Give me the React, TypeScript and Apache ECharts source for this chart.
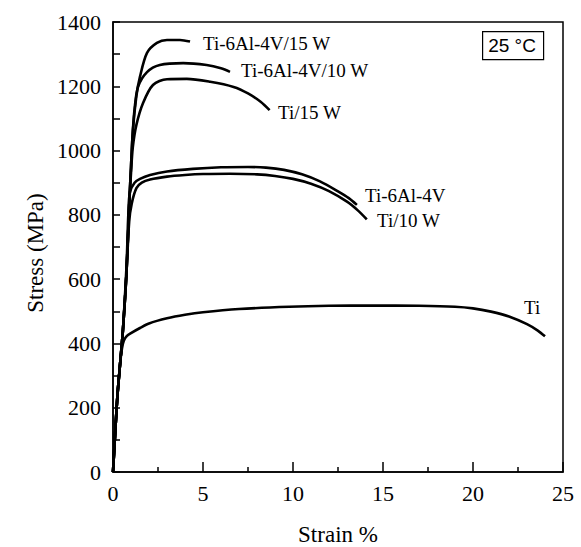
import React, { useEffect, useRef } from "react";
import * as echarts from "echarts";

// Engineering stress–strain curves at 25 °C: [strain %, stress MPa]
const tiCurve: [number, number][] = [
  [0, 0], [0.12, 120], [0.25, 240], [0.4, 340], [0.5, 385], [0.6, 408], [0.75, 422],
  [1, 432], [1.5, 448], [2, 462], [3, 478], [4, 489], [5, 497], [7, 507], [9.8, 514],
  [12, 517], [14.4, 518], [17, 517], [19, 514], [20, 509], [21, 499], [22, 484],
  [23, 460], [23.6, 440], [24, 422],
];
const ti10WCurve: [number, number][] = [
  [0, 0], [0.12, 120], [0.25, 240], [0.4, 340], [0.55, 440], [0.75, 620], [0.9, 780],
  [1.04, 835], [1.3, 883], [1.6, 900], [2.06, 910], [3, 919], [4, 924], [5, 927],
  [6.5, 928], [8, 926], [9, 921], [10, 912], [11, 897], [12, 874], [13, 841],
  [13.6, 814], [14.1, 786],
];
const ti64Curve: [number, number][] = [
  [0, 0], [0.12, 120], [0.25, 240], [0.4, 340], [0.55, 440], [0.75, 640], [0.85, 800],
  [0.94, 871], [1.2, 900], [1.5, 912], [2.06, 924], [3, 935], [4.44, 943], [6, 948],
  [7.5, 949], [8.5, 947], [9.5, 940], [10.5, 926], [11.5, 904], [12.5, 873],
  [13.1, 852], [13.55, 831],
];
const ti15WCurve: [number, number][] = [
  [0, 0], [0.12, 120], [0.25, 240], [0.4, 340], [0.55, 440], [0.75, 620], [0.9, 830],
  [1.0, 930], [1.1, 1010], [1.3, 1080], [1.67, 1148], [2.22, 1204], [3, 1222], [4.1, 1223],
  [5.4, 1214], [6.7, 1198], [7.5, 1178], [8.2, 1152], [8.7, 1126],
];
const ti64_10WCurve: [number, number][] = [
  [0, 0], [0.12, 120], [0.25, 240], [0.4, 340], [0.55, 440], [0.75, 620], [0.9, 830],
  [1.0, 950], [1.1, 1060], [1.2, 1130], [1.39, 1198], [1.89, 1244], [2.6, 1266],
  [3.9, 1272], [5.2, 1266], [6, 1256], [6.5, 1245],
];
const ti64_15WCurve: [number, number][] = [
  [0, 0], [0.12, 120], [0.25, 240], [0.4, 340], [0.55, 440], [0.75, 620], [0.9, 830],
  [1.0, 950], [1.1, 1060], [1.3, 1170], [1.5, 1230], [1.89, 1304], [2.44, 1335],
  [3, 1344], [3.72, 1344], [4.28, 1339],
];

const seriesNames = ["Ti", "Ti/10 W", "Ti-6Al-4V", "Ti/15 W", "Ti-6Al-4V/10 W", "Ti-6Al-4V/15 W"];
const seriesData = [tiCurve, ti10WCurve, ti64Curve, ti15WCurve, ti64_10WCurve, ti64_15WCurve];

const serif = "Liberation Serif";
const sans = "Liberation Sans";

// Curve label placement [left x, centre y] in pixels
const labelSpots: Record<string, [number, number]> = {
  "Ti-6Al-4V/15 W": [203, 43],
  "Ti-6Al-4V/10 W": [241, 70],
  "Ti/15 W": [278, 112],
  "Ti-6Al-4V": [365, 195],
  "Ti/10 W": [377, 220],
  "Ti": [524, 307],
};

export default function App() {
  const ref = useRef<HTMLDivElement>(null);

  useEffect(() => {
    if (!ref.current) return;
    const chart = echarts.init(ref.current, null, { renderer: "svg" });

    const labelTexts = seriesNames.map((name) => ({
      type: "text" as const,
      x: labelSpots[name][0],
      y: labelSpots[name][1],
      style: {
        text: name,
        fontFamily: serif,
        fontSize: 19,
        fill: "#000",
        verticalAlign: "middle",
      },
    }));

    chart.setOption({
      animation: false,
      backgroundColor: "#fff",
      grid: {
        left: 113,
        right: 18,
        top: 22,
        bottom: 75,
        show: true,
        borderColor: "#000",
        borderWidth: 1.5,
      },
      xAxis: {
        type: "value",
        min: 0,
        max: 25,
        interval: 5,
        axisLine: { show: true, lineStyle: { color: "#000", width: 1.5 } },
        axisTick: { show: true, inside: true, length: 10, lineStyle: { color: "#000", width: 1.5 } },
        minorTick: { show: true, splitNumber: 2, length: 5, lineStyle: { color: "#000", width: 1.5 } },
        splitLine: { show: false },
        axisLabel: { color: "#000", fontFamily: serif, fontSize: 22, margin: 10 },
      },
      yAxis: {
        type: "value",
        min: 0,
        max: 1400,
        interval: 100,
        axisLine: { show: true, lineStyle: { color: "#000", width: 1.5 } },
        axisTick: { show: true, inside: true, length: 7, interval: 0, lineStyle: { color: "#000", width: 1.5 } },
        splitLine: { show: false },
        axisLabel: {
          color: "#000",
          fontFamily: serif,
          fontSize: 22,
          margin: 12,
          formatter: (v: number) => (v % 200 === 0 ? String(v) : ""),
        },
      },
      series: seriesNames.map((name, i) => ({
        name,
        type: "line",
        data: seriesData[i],
        showSymbol: false,
        symbol: "none",
        smooth: 0.3,
        lineStyle: { color: "#000", width: 2.6 },
        z: 3,
      })),
      graphic: [
        ...labelTexts,
        {
          type: "rect",
          left: 482,
          top: 31,
          shape: { width: 61, height: 28 },
          style: { fill: "#fff", stroke: "#000", lineWidth: 1.2 },
        },
        {
          type: "text",
          x: 512,
          y: 45,
          style: {
            text: "25 °C",
            fontFamily: sans,
            fontSize: 19,
            fill: "#000",
            align: "center",
            verticalAlign: "middle",
          },
        },
        {
          type: "text",
          x: 35,
          y: 253,
          rotation: Math.PI / 2,
          style: {
            text: "Stress (MPa)",
            fontFamily: serif,
            fontSize: 23,
            fill: "#000",
            align: "center",
            verticalAlign: "middle",
          },
        },
        {
          type: "text",
          x: 338,
          y: 534,
          style: {
            text: "Strain %",
            fontFamily: serif,
            fontSize: 23,
            fill: "#000",
            align: "center",
            verticalAlign: "middle",
          },
        },
      ],
    });

    return () => chart.dispose();
  }, []);

  return (
    <div
      ref={ref}
      style={{ position: "fixed", left: 0, top: 0, width: 581, height: 547, background: "#fff" }}
    />
  );
}
